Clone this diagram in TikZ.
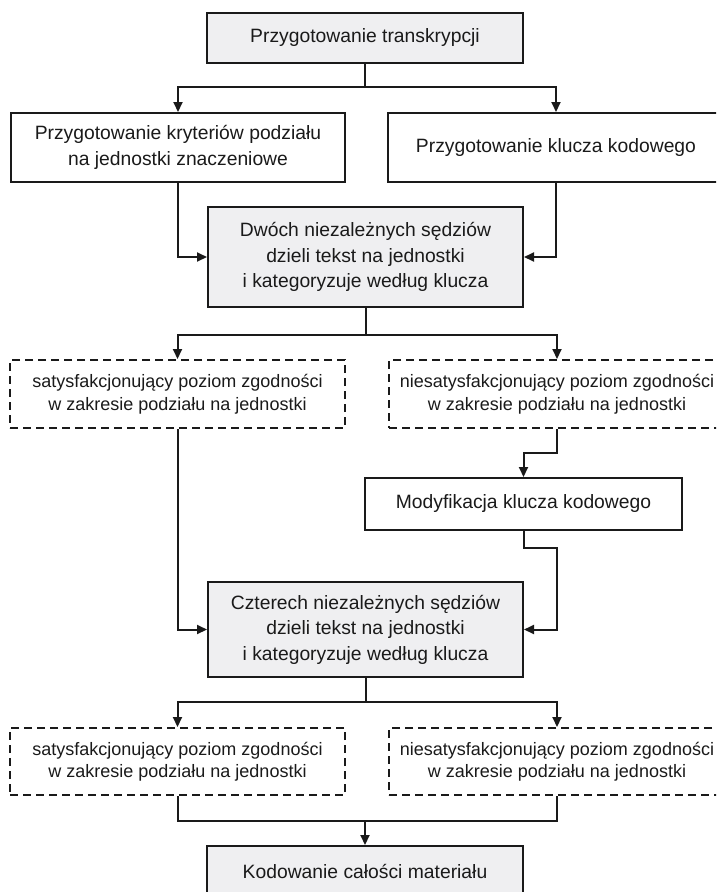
\documentclass[tikz,border=0pt]{standalone}
\usepackage{fontspec}
\setmainfont{Liberation Sans}
\usetikzlibrary{arrows.meta}
\definecolor{ink}{HTML}{1A1A1A}
\definecolor{boxfill}{HTML}{EFEFF1}
\tikzset{
  base/.style={rectangle, draw=ink, line width=2pt, text=ink, inner sep=0pt,
    align=center, font=\fontsize{19.3}{25.5}\selectfont},
  solidbox/.style={base, fill=white},
  graybox/.style={base, fill=boxfill},
  dashbox/.style={base, fill=white, dash pattern=on 8pt off 5pt,
    font=\fontsize{18}{22.5}\selectfont},
  link/.style={draw=ink, line width=2pt},
  arr/.style={link, -{Triangle[length=10pt,width=9pt]}}
}
\begin{document}
\begin{tikzpicture}[x=1pt,y=-1pt]
\useasboundingbox (0,0) rectangle (716,892);
\clip (0,0) rectangle (716,892);
\fill[white] (0,0) rectangle (716,892);

% boxes
\node[graybox, minimum width=316pt, minimum height=50pt] (b1) at (365,38) {Przygotowanie transkrypcji};
\node[solidbox, minimum width=334pt, minimum height=69pt] (b2) at (178,147.5) {Przygotowanie kryteriów podziału\\na jednostki znaczeniowe};
\node[solidbox, minimum width=336pt, minimum height=69pt] (b3) at (556,147.5) {Przygotowanie klucza kodowego};
\node[graybox, minimum width=315pt, minimum height=100pt] (b4) at (365.5,257) {Dwóch niezależnych sędziów\\dzieli tekst na jednostki\\i kategoryzuje według klucza};
\node[dashbox, minimum width=335pt, minimum height=68pt] (d1) at (177.5,394) {satysfakcjonujący poziom zgodności\\w zakresie podziału na jednostki};
\node[dashbox, minimum width=336pt, minimum height=68pt] (d2) at (557,394) {niesatysfakcjonujący poziom zgodności\\w zakresie podziału na jednostki};
\node[solidbox, minimum width=317pt, minimum height=52pt] (b5) at (523.5,504) {Modyfikacja klucza kodowego};
\node[graybox, minimum width=315pt, minimum height=95pt] (b6) at (365.5,629.5) {Czterech niezależnych sędziów\\dzieli tekst na jednostki\\i kategoryzuje według klucza};
\node[dashbox, minimum width=335pt, minimum height=67pt] (d3) at (177.5,761.5) {satysfakcjonujący poziom zgodności\\w zakresie podziału na jednostki};
\node[dashbox, minimum width=336pt, minimum height=67pt] (d4) at (557,761.5) {niesatysfakcjonujący poziom zgodności\\w zakresie podziału na jednostki};
\node[graybox, minimum width=316pt, minimum height=50pt] (b7) at (365,871) {Kodowanie całości materiału};

% branch points
\coordinate (s1) at (365,87);
\coordinate (s2) at (365.5,335);
\coordinate (k1) at (523.5,453);
\coordinate (k2) at (557,548);
\coordinate (s3) at (365.5,702);
\coordinate (s4) at (365,821);

% connectors
\draw[link] (b1.south) -- (s1);
\draw[arr] (s1) -| (b2.north);
\draw[arr] (s1) -| (b3.north);
\draw[arr] (b2.south) |- (b4.west);
\draw[arr] (b3.south) |- (b4.east);

\draw[link] (b4.south) -- (s2);
\draw[arr] (s2) -| (d1.north);
\draw[arr] (s2) -| (d2.north);
\draw[arr] (d2.south) |- (k1) -- (b5.north);
\draw[arr] (b5.south) |- (k2) |- (b6.east);
\draw[arr] (d1.south) |- (b6.west);

\draw[link] (b6.south) -- (s3);
\draw[arr] (s3) -| (d3.north);
\draw[arr] (s3) -| (d4.north);
\draw[link] (d3.south) |- (s4);
\draw[link] (d4.south) |- (s4);
\draw[arr] (s4) -- (b7.north);
\end{tikzpicture}
\end{document}
